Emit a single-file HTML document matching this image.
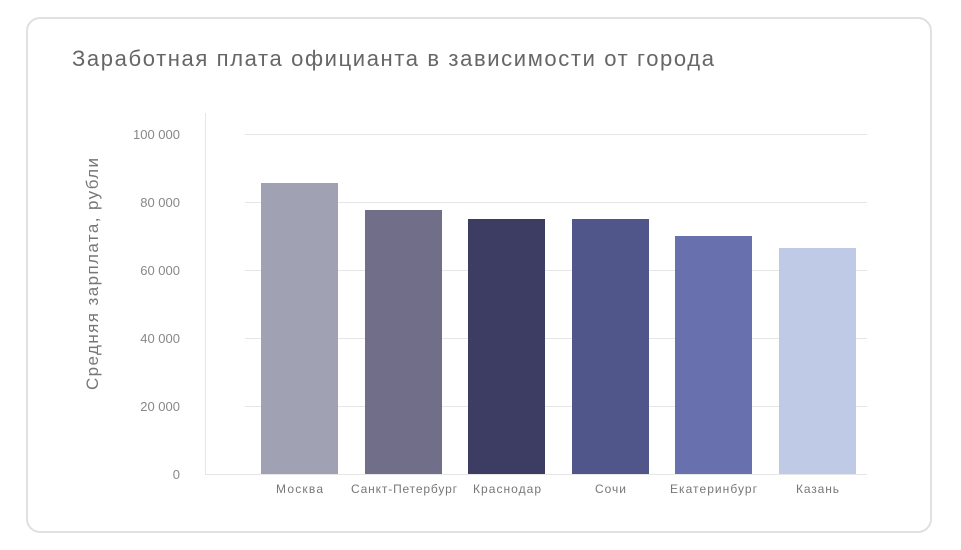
<!DOCTYPE html>
<html><head><meta charset="utf-8"><style>
body{margin:0;background:#fff;width:961px;height:550px;overflow:hidden;font-family:"Liberation Sans",sans-serif}
.card{position:absolute;left:26px;top:17px;width:906px;height:516px;border:2px solid #e0e0e0;border-radius:14px;box-sizing:border-box}
</style></head><body>
<div class="card"></div>
<svg width="961" height="550" style="position:absolute;left:0;top:0" font-family="Liberation Sans, sans-serif">
<text x="72" y="66" font-size="22" fill="#666" textLength="642" lengthAdjust="spacing">Заработная плата официанта в зависимости от города</text>
<g stroke="#e6e6e6" stroke-width="1">
<line x1="245" y1="134.5" x2="867" y2="134.5"/>
<line x1="245" y1="202.5" x2="867" y2="202.5"/>
<line x1="245" y1="270.5" x2="867" y2="270.5"/>
<line x1="245" y1="338.5" x2="867" y2="338.5"/>
<line x1="245" y1="406.5" x2="867" y2="406.5"/>
<line x1="205.5" y1="113" x2="205.5" y2="474"/>
<line x1="205" y1="474.5" x2="867" y2="474.5"/>
</g>
<g font-size="13" fill="#888" text-anchor="end">
<text x="180" y="139">100 000</text>
<text x="180" y="207">80 000</text>
<text x="180" y="275">60 000</text>
<text x="180" y="343">40 000</text>
<text x="180" y="411">20 000</text>
<text x="180" y="479">0</text>
</g>
<text transform="translate(98,274) rotate(-90)" font-size="17" fill="#777" text-anchor="middle" textLength="232" lengthAdjust="spacing">Средняя зарплата, рубли</text>
<rect x="261" y="183" width="77" height="291" fill="#a0a1b3"/>
<rect x="365" y="210" width="77" height="264" fill="#716e8a"/>
<rect x="468" y="219" width="77" height="255" fill="#3d3c63"/>
<rect x="572" y="219" width="77" height="255" fill="#50568a"/>
<rect x="675" y="236" width="77" height="238" fill="#6870ae"/>
<rect x="779" y="248" width="77" height="226" fill="#bfcae6"/>
<g font-size="12" fill="#777" text-anchor="middle">
<text x="299.5" y="493" textLength="47" lengthAdjust="spacing">Москва</text>
<text x="404" y="493" textLength="106" lengthAdjust="spacing">Санкт-Петербург</text>
<text x="507" y="493" textLength="68" lengthAdjust="spacing">Краснодар</text>
<text x="610.5" y="493" textLength="31" lengthAdjust="spacing">Сочи</text>
<text x="713.5" y="493" textLength="87" lengthAdjust="spacing">Екатеринбург</text>
<text x="817.5" y="493" textLength="43" lengthAdjust="spacing">Казань</text>
</g>
</svg>
</body></html>
